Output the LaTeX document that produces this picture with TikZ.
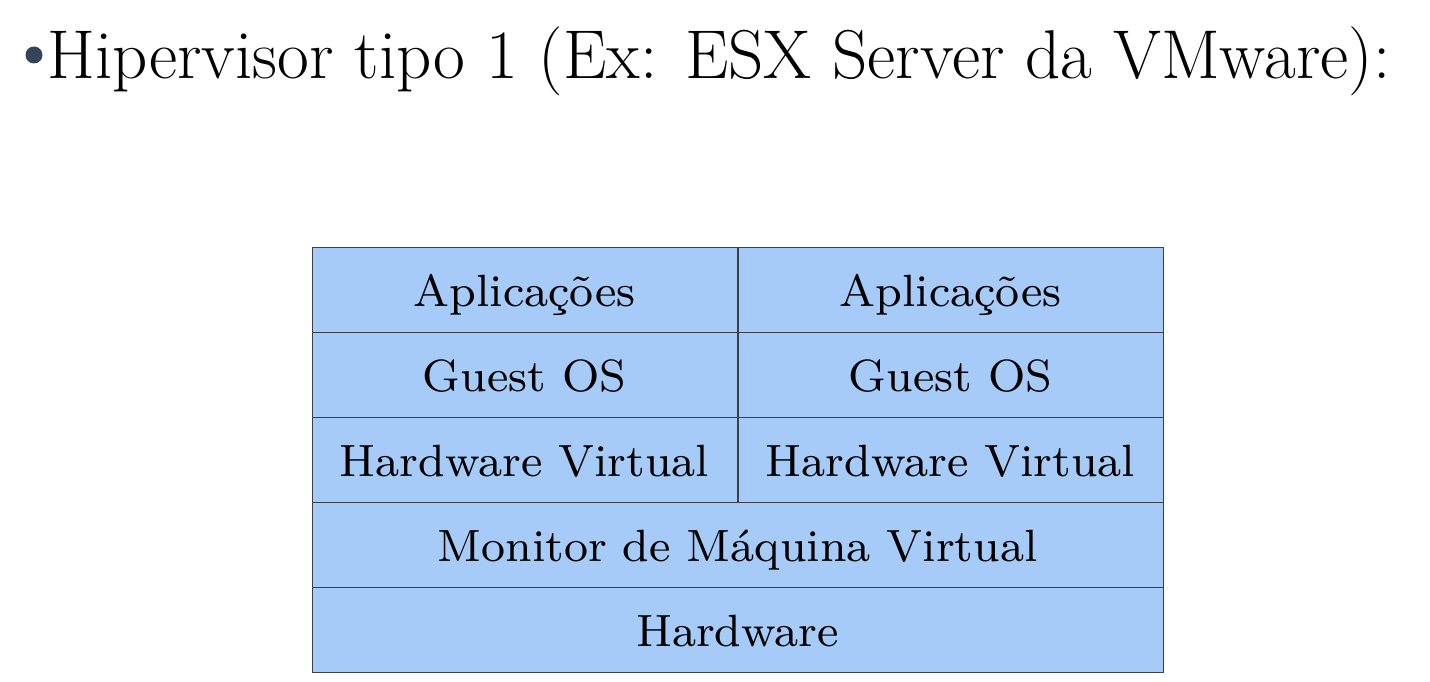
\documentclass[tikz,border=0pt]{standalone}
\usepackage{fontspec}
\newfontfamily\tabfont{lmroman8-regular.otf}
\definecolor{cellblue}{RGB}{166,203,248}
\definecolor{bordergray}{RGB}{58,64,74}
\definecolor{bulletcol}{RGB}{52,68,90}
\begin{document}
\begin{tikzpicture}[x=1pt,y=-1pt,
  cell/.style={draw=bordergray, line width=1pt, fill=cellblue, inner sep=0pt,
    minimum height=85pt, text height=34pt, text depth=0pt,
    font=\tabfont\fontsize{45.2}{54}\selectfont},
  half/.style={cell, minimum width=425pt},
  full/.style={cell, minimum width=851pt}]
\useasboundingbox (0,0) rectangle (1430,682);
\fill[white] (0,0) rectangle (1430,682);
\node[circle, fill=bulletcol, inner sep=0pt, minimum size=17pt] (bullet) at (34,55) {};
\node[anchor=base west, inner sep=0pt, font=\fontsize{69.1}{82}\selectfont] (title) at (47,79) {Hipervisor tipo 1 (Ex: ESX Server da VMware):};
\node[half] (app1) at (524.5,289.5) {Aplicações};
\node[half] (app2) at (950.5,289.5) {Aplicações};
\node[half] (os1) at (524.5,374.5) {Guest OS};
\node[half] (os2) at (950.5,374.5) {Guest OS};
\node[half] (hv1) at (524.5,459.5) {Hardware Virtual};
\node[half] (hv2) at (950.5,459.5) {Hardware Virtual};
\node[full] (vmm) at (737.5,544.5) {Monitor de Máquina Virtual};
\node[full] (hw) at (737.5,629.5) {Hardware};
\end{tikzpicture}
\end{document}
